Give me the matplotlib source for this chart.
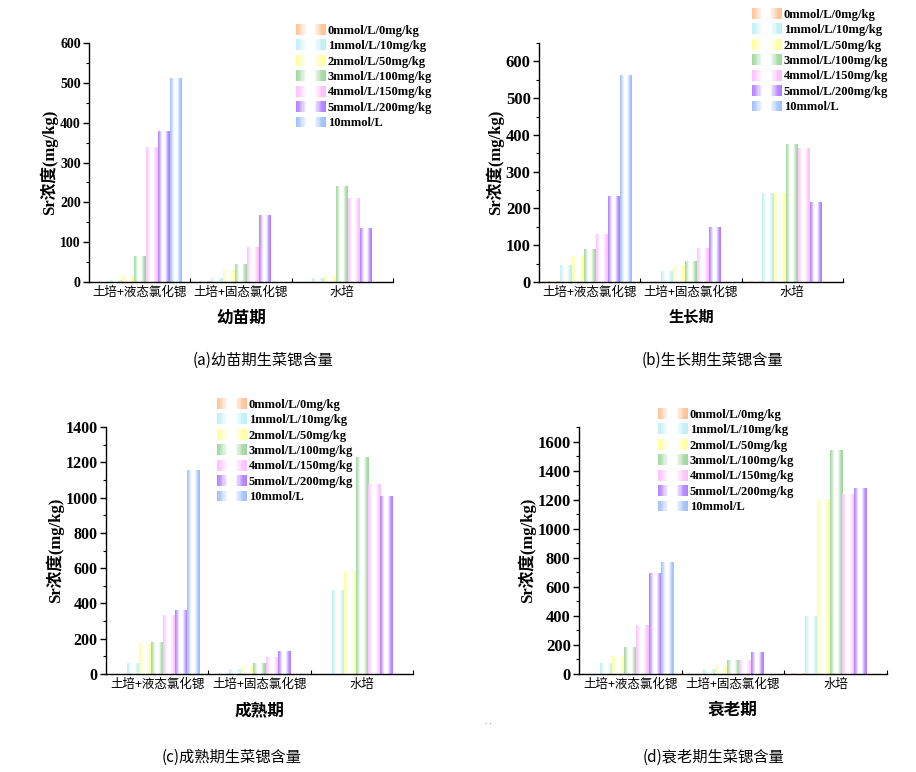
import numpy as np
import matplotlib
matplotlib.use("Agg")
import matplotlib.pyplot as plt
from matplotlib.legend_handler import HandlerBase
from matplotlib.patches import Rectangle, Patch
from matplotlib.colors import to_rgb
from matplotlib.ticker import MultipleLocator, FixedLocator

plt.rcParams['font.family'] = ['Liberation Serif', 'Noto Sans CJK SC']

groups = ['土培+液态氯化锶', '土培+固态氯化锶', '水培']
series = ['0mmol/L/0mg/kg', '1mmol/L/10mg/kg', '2mmol/L/50mg/kg',
          '3mmol/L/100mg/kg', '4mmol/L/150mg/kg', '5mmol/L/200mg/kg', '10mmol/L']
colors = ['#FFC093', '#BDEFF5', '#FFFF9A', '#9ED69E', '#FFBEFF', '#AE7BFF', '#9DBDFF']

# rows = series, columns = groups
seedling = [[0, 2, 0], [5, 10, 8], [13, 30, 14], [65, 45, 241],
            [337, 87, 209], [378, 168, 135], [510, 0, 0]]
growth = [[1, 0, 1], [45, 29, 241], [68, 42, 241], [88, 56, 373],
          [129, 91, 363], [232, 148, 216], [562, 0, 0]]
mature = [[0, 0, 0], [59, 28, 474], [172, 40, 582], [180, 59, 1229],
          [331, 95, 1074], [359, 128, 1006], [1155, 0, 0]]
senescence = [[0, 0, 5], [69, 28, 398], [120, 55, 1202], [183, 92, 1538],
              [333, 90, 1235], [694, 148, 1276], [765, 0, 0]]

stages = ['幼苗期', '生长期', '成熟期', '衰老期']
captions = ['(a)幼苗期生菜锶含量', '(b)生长期生菜锶含量', '(c)成熟期生菜锶含量', '(d)衰老期生菜锶含量']
ylims = [600, 650, 1400, 1700]
ysteps = [100, 100, 200, 200]

W, H = 916, 772
# gradient profile across a bar: colour weight at each relative x
PX = [0.0, 0.1, 0.35, 0.6, 0.85, 1.0]
PW = [1.0, 0.75, 0.0, 0.0, 0.85, 1.0]


def grad_row(col, n=64):
    col = np.array(to_rgb(col))
    xs = (np.arange(n) + 0.5) / n
    w = np.interp(xs, PX, PW)[:, None]
    return (1 - w * (1 - col))[None, :, :]


class GradHandler(HandlerBase):
    def create_artists(self, legend, orig_handle, xdescent, ydescent,
                       width, height, fontsize, trans):
        col = np.array(to_rgb(orig_handle.get_facecolor()))
        n = 24
        arts = []
        for k in range(n):
            w = np.interp((k + 0.5) / n, PX, PW)
            c = 1 - w * (1 - col)
            arts.append(Rectangle((-xdescent + k * width / n, -ydescent),
                                  width / n * 1.08, height, facecolor=c,
                                  edgecolor='none', transform=trans))
        return arts


fig = plt.figure(figsize=(W / 100, H / 100), dpi=100)

axes_px = [(89, 393, 282, 43), (539, 843, 282, 43),
           (106, 413, 674, 427), (579, 887, 674, 427)]
leg_px = [(296, 24), (752, 8), (217, 398), (658, 408)]
tick_fs = [10, 12, 11.5, 12]
xl_fs = [12, 11, 12, 12]
cap_px = [(263, 360), (712, 360), (232, 757), (713, 757)]
data_all = [seedling, growth, mature, senescence]

bw = 0.118
x = np.arange(len(groups))

for i, data in enumerate(data_all):
    l, r, b, t = axes_px[i]
    ax = fig.add_axes([l / W, 1 - b / H, (r - l) / W, (b - t) / H])
    handles = []
    for s in range(len(series)):
        bars = ax.bar(x + (s - 3) * bw, data[s], width=bw, color='none',
                      edgecolor='none')
        for p in bars.patches:
            bx, by = p.get_x(), p.get_y()
            bh = p.get_height()
            if bh <= 0:
                continue
            ax.imshow(grad_row(colors[s]), extent=[bx, bx + p.get_width(), by, by + bh],
                      aspect='auto', interpolation='bilinear', zorder=2)
        handles.append(Patch(facecolor=colors[s], label=series[s]))
    ax.set_xlim(-0.5, 2.5)
    ax.set_ylim(0, ylims[i])
    for sp in ['top', 'right']:
        ax.spines[sp].set_visible(False)
    ax.spines['left'].set_linewidth(1)
    ax.spines['bottom'].set_linewidth(1)
    ax.yaxis.set_major_locator(MultipleLocator(ysteps[i]))
    ax.yaxis.set_minor_locator(MultipleLocator(ysteps[i] / 2))
    ax.tick_params(axis='y', which='major', direction='out', length=4, width=1,
                   labelsize=tick_fs[i], pad=2)
    ax.tick_params(axis='y', which='minor', direction='out', length=2.5, width=0.8)
    for lab in ax.get_yticklabels():
        lab.set_fontweight('bold')
    ax.set_xticks(x)
    ax.set_xticklabels(groups, fontsize=9, family=['Noto Sans CJK SC'])
    ax.xaxis.set_minor_locator(FixedLocator([0.5, 1.5, 2.5]))
    ax.tick_params(axis='x', which='major', direction='in', length=3, width=0.8, pad=3)
    ax.tick_params(axis='x', which='minor', direction='in', length=3, width=0.8)
    ax.set_xlabel(stages[i], fontsize=xl_fs[i], fontweight='bold',
                  family=['Noto Sans CJK SC'], labelpad=7)
    ax.set_ylabel('Sr浓度(mg/kg)', fontsize=12, fontweight='bold', labelpad=1)
    lx, ly = leg_px[i]
    ax.legend(handles=handles, handler_map={Patch: GradHandler()},
              loc='upper left', bbox_to_anchor=(lx / W, 1 - ly / H),
              bbox_transform=fig.transFigure, frameon=False, borderpad=0,
              borderaxespad=0, handlelength=2.4, handleheight=0.95,
              handletextpad=0.15, labelspacing=0.22,
              prop={'size': 9, 'weight': 'bold', 'family': 'Liberation Serif'})
    cx, cy = cap_px[i]
    fig.text(cx / W, 1 - cy / H, captions[i], ha='center', va='center',
             fontsize=11, family=['Noto Sans CJK SC'])

fig.text(488 / W, 1 - 722 / H, '. .', ha='center', va='center', fontsize=6, color='#666666')

fig.savefig('out.png', dpi=100)
